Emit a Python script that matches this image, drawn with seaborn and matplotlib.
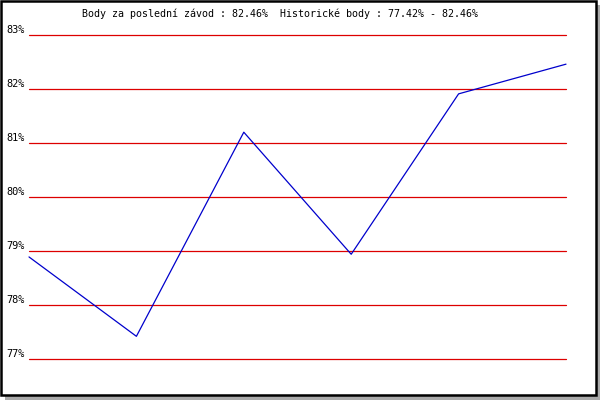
import matplotlib
matplotlib.use("Agg")
import matplotlib.pyplot as plt
import seaborn as sns
from matplotlib.patches import Rectangle

# data
races = [1, 2, 3, 4, 5, 6]
points = [78.89, 77.42, 81.20, 78.94, 81.91, 82.46]
y_ticks = [77, 78, 79, 80, 81, 82, 83]
title = "Body za poslední závod : 82.46%  Historické body : 77.42% - 82.46%"

sns.set_theme(style="white")
plt.rcParams["font.family"] = ["DejaVu Sans Mono", "DejaVu Sans"]

W, H = 600, 400
fig = plt.figure(figsize=(6, 4), dpi=100)
fig.patch.set_facecolor("white")

# drop shadow + black frame
fig.patches.append(Rectangle((5 / W, 0), 1 - 5 / W, 1 - 5 / H, transform=fig.transFigure,
                             facecolor="#aaaaaa", edgecolor="none", zorder=0))
fig.patches.append(Rectangle((1 / W, 5 / H), 595 / W, 394 / H, transform=fig.transFigure,
                             facecolor="white", edgecolor="black", linewidth=1.8, zorder=1))

ax = fig.add_axes([29 / W, 1 - 359 / H, (566 - 29) / W, (359 - 35) / H])
ax.set_facecolor("none")
ax.set_zorder(2)

sns.lineplot(x=races, y=points, ax=ax, color="#0000cc", linewidth=0.9, clip_on=False)

ax.set_xlim(races[0], races[-1])
ax.set_ylim(y_ticks[0], y_ticks[-1])
ax.set_yticks(y_ticks)
ax.set_yticklabels([f"{t}%" for t in y_ticks], fontsize=7.4, color="black")
for lbl in ax.get_yticklabels():
    lbl.set_va("bottom")
ax.tick_params(axis="y", length=0, pad=3)
ax.set_xticks([])
ax.set_xlabel("")
ax.set_ylabel("")
for t in y_ticks:
    ax.axhline(t, color="#dd0000", linewidth=0.9, zorder=1, clip_on=False)
for s in ax.spines.values():
    s.set_visible(False)

fig.text(82 / W, 1 - 14 / H, title, fontsize=7.2, ha="left", va="center", color="black")

fig.savefig("out.png", dpi=100)
